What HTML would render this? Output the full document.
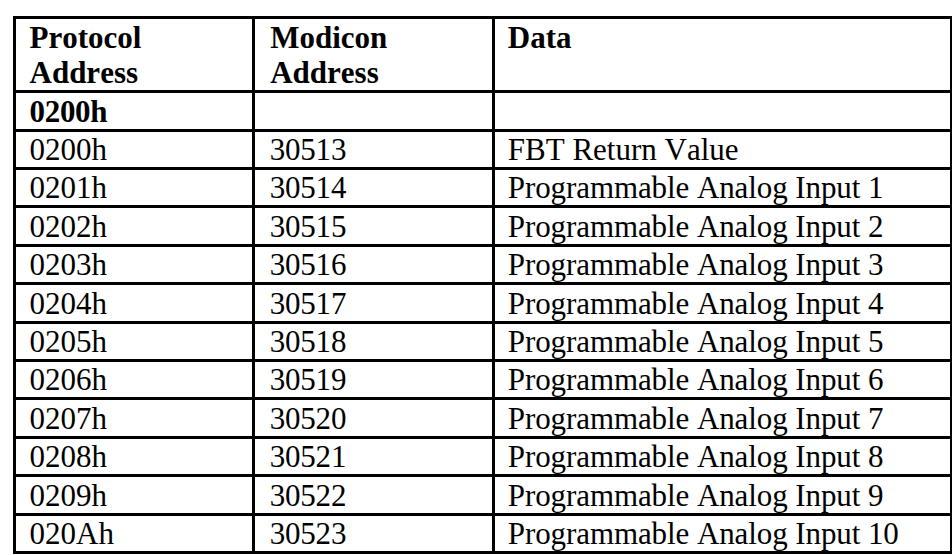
<!DOCTYPE html>
<html><head><meta charset="utf-8"><style>
html,body{margin:0;padding:0;background:#fff;width:952px;height:555px;overflow:hidden;position:relative}
.h{position:absolute;background:#000;height:3px}
.v{position:absolute;background:#000;width:3px}
.t{position:absolute;font-family:"Liberation Serif",serif;font-size:31px;line-height:35px;white-space:nowrap;color:#000;font-kerning:none}
.b{font-weight:bold}
</style></head><body>

<div class="h" style="left:13px;top:16px;width:940px"></div>
<div class="h" style="left:13px;top:90px;width:940px"></div>
<div class="h" style="left:13px;top:129px;width:940px"></div>
<div class="h" style="left:13px;top:167px;width:940px"></div>
<div class="h" style="left:13px;top:205px;width:940px"></div>
<div class="h" style="left:13px;top:244px;width:940px"></div>
<div class="h" style="left:13px;top:282px;width:940px"></div>
<div class="h" style="left:13px;top:321px;width:940px"></div>
<div class="h" style="left:13px;top:359px;width:940px"></div>
<div class="h" style="left:13px;top:397px;width:940px"></div>
<div class="h" style="left:13px;top:436px;width:940px"></div>
<div class="h" style="left:13px;top:474px;width:940px"></div>
<div class="h" style="left:13px;top:513px;width:940px"></div>
<div class="h" style="left:13px;top:551px;width:940px"></div>
<div class="v" style="left:13px;top:16px;height:538px"></div>
<div class="v" style="left:252px;top:16px;height:538px"></div>
<div class="v" style="left:492px;top:16px;height:538px"></div>
<div class="v" style="left:950px;top:16px;height:538px"></div>
<div class="t b" style="left:29.5px;top:20px">Protocol<br>Address</div>
<div class="t b" style="left:270.2px;top:20px">Modicon<br>Address</div>
<div class="t b" style="left:507.8px;top:20px">Data</div>
<div class="t b" style="left:29.5px;top:94px;letter-spacing:-0.3px">0200h</div>
<div class="t" style="left:29.5px;top:132px">0200h</div>
<div class="t" style="left:269.7px;top:132px;letter-spacing:-0.2px">30513</div>
<div class="t" style="left:507.8px;top:132px">FBT Return Value</div>
<div class="t" style="left:29.5px;top:170px">0201h</div>
<div class="t" style="left:269.7px;top:170px;letter-spacing:-0.2px">30514</div>
<div class="t" style="left:507.8px;top:170px;letter-spacing:-0.09px">Programmable Analog Input 1</div>
<div class="t" style="left:29.5px;top:209px">0202h</div>
<div class="t" style="left:269.7px;top:209px;letter-spacing:-0.2px">30515</div>
<div class="t" style="left:507.8px;top:209px;letter-spacing:-0.09px">Programmable Analog Input 2</div>
<div class="t" style="left:29.5px;top:247px">0203h</div>
<div class="t" style="left:269.7px;top:247px;letter-spacing:-0.2px">30516</div>
<div class="t" style="left:507.8px;top:247px;letter-spacing:-0.09px">Programmable Analog Input 3</div>
<div class="t" style="left:29.5px;top:286px">0204h</div>
<div class="t" style="left:269.7px;top:286px;letter-spacing:-0.2px">30517</div>
<div class="t" style="left:507.8px;top:286px;letter-spacing:-0.09px">Programmable Analog Input 4</div>
<div class="t" style="left:29.5px;top:324px">0205h</div>
<div class="t" style="left:269.7px;top:324px;letter-spacing:-0.2px">30518</div>
<div class="t" style="left:507.8px;top:324px;letter-spacing:-0.09px">Programmable Analog Input 5</div>
<div class="t" style="left:29.5px;top:362px">0206h</div>
<div class="t" style="left:269.7px;top:362px;letter-spacing:-0.2px">30519</div>
<div class="t" style="left:507.8px;top:362px;letter-spacing:-0.09px">Programmable Analog Input 6</div>
<div class="t" style="left:29.5px;top:401px">0207h</div>
<div class="t" style="left:269.7px;top:401px;letter-spacing:-0.2px">30520</div>
<div class="t" style="left:507.8px;top:401px;letter-spacing:-0.09px">Programmable Analog Input 7</div>
<div class="t" style="left:29.5px;top:439px">0208h</div>
<div class="t" style="left:269.7px;top:439px;letter-spacing:-0.2px">30521</div>
<div class="t" style="left:507.8px;top:439px;letter-spacing:-0.09px">Programmable Analog Input 8</div>
<div class="t" style="left:29.5px;top:478px">0209h</div>
<div class="t" style="left:269.7px;top:478px;letter-spacing:-0.2px">30522</div>
<div class="t" style="left:507.8px;top:478px;letter-spacing:-0.09px">Programmable Analog Input 9</div>
<div class="t" style="left:29.5px;top:516px">020Ah</div>
<div class="t" style="left:269.7px;top:516px;letter-spacing:-0.2px">30523</div>
<div class="t" style="left:507.8px;top:516px;letter-spacing:-0.09px">Programmable Analog Input 10</div>
</body></html>
